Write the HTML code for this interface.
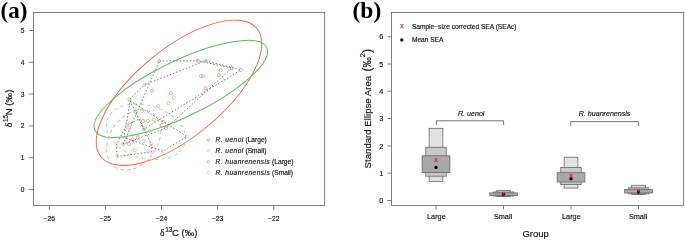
<!DOCTYPE html><html><head><meta charset="utf-8"><title>Figure</title>
<style>html,body{margin:0;padding:0;background:#fff}svg{display:block}text{font-family:"Liberation Sans",sans-serif;fill:#111;stroke:#111;stroke-width:0.15px}.b{font-family:"Liberation Serif",serif;font-weight:bold;font-size:23px;fill:#000;stroke:none}.it{font-style:italic}</style></head><body>
<svg width="685" height="240" viewBox="0 0 685 240">
<rect width="685" height="240" fill="#fff"/>
<g id="panelA">
<text class="b" x="0.5" y="18">(a)</text>
<g fill="none" stroke-width="0.95">
<ellipse cx="179" cy="92.8" rx="101" ry="44" transform="rotate(-39.5 179 92.8)" stroke="#ee6246"/>
<ellipse cx="180.8" cy="88.9" rx="95.4" ry="27.9" transform="rotate(-25.8 180.8 88.9)" stroke="#60ba62"/>
<ellipse cx="133.7" cy="140" rx="32.8" ry="23.7" transform="rotate(-54.8 133.7 140)" stroke="#f6a890" stroke-dasharray="3.6 3"/>
<ellipse cx="146" cy="131.8" rx="40.6" ry="26.3" transform="rotate(16.7 146 131.8)" stroke="#a8dca4" stroke-dasharray="3.6 3"/>
</g>
<g fill="none" stroke="#555" stroke-width="0.8" stroke-dasharray="1.5 1.9">
<polygon points="159.3,61.0 197.9,60.8 231.8,68.1 165.9,128.1 123.2,144.0"/>
<polygon points="205.7,60.8 240.8,69.9 143.7,129.2 129.5,99.4 144.7,84.7"/>
<polygon points="117.1,156.5 151.4,151.8 151.1,144.0 139.4,119.0 126.2,125.5 116.6,144.4"/>
<polygon points="130.2,100.9 186.8,136.4 163.2,151.3 124.0,137.5"/>
</g>
<g fill="none" stroke-width="0.55">
<circle cx="159.3" cy="61.0" r="1.6" stroke="#ee6246"/>
<circle cx="197.9" cy="60.8" r="1.6" stroke="#ee6246"/>
<circle cx="231.8" cy="68.1" r="1.6" stroke="#ee6246"/>
<circle cx="220.7" cy="70.3" r="1.6" stroke="#ee6246"/>
<circle cx="205.7" cy="88.2" r="1.6" stroke="#ee6246"/>
<circle cx="152.1" cy="90.5" r="1.6" stroke="#ee6246"/>
<circle cx="170.8" cy="93.3" r="1.6" stroke="#ee6246"/>
<circle cx="163.0" cy="122.0" r="1.6" stroke="#ee6246"/>
<circle cx="165.9" cy="128.1" r="1.6" stroke="#ee6246"/>
<circle cx="123.2" cy="144.0" r="1.6" stroke="#ee6246"/>
<circle cx="128.9" cy="144.0" r="1.6" stroke="#ee6246"/>
<circle cx="132.6" cy="139.8" r="1.6" stroke="#ee6246"/>
<circle cx="137.7" cy="137.4" r="1.6" stroke="#ee6246"/>
<circle cx="143.0" cy="121.0" r="1.6" stroke="#ee6246"/>
<circle cx="205.7" cy="60.8" r="1.6" stroke="#60ba62"/>
<circle cx="240.8" cy="69.9" r="1.6" stroke="#60ba62"/>
<circle cx="218.9" cy="75.0" r="1.6" stroke="#60ba62"/>
<circle cx="200.8" cy="76.2" r="1.6" stroke="#60ba62"/>
<circle cx="202.8" cy="76.2" r="1.6" stroke="#60ba62"/>
<circle cx="144.7" cy="84.7" r="1.6" stroke="#60ba62"/>
<circle cx="173.8" cy="97.5" r="1.6" stroke="#60ba62"/>
<circle cx="129.5" cy="99.4" r="1.6" stroke="#60ba62"/>
<circle cx="168.4" cy="103.3" r="1.6" stroke="#60ba62"/>
<circle cx="158.2" cy="106.1" r="1.6" stroke="#60ba62"/>
<circle cx="135.4" cy="111.7" r="1.6" stroke="#60ba62"/>
<circle cx="143.8" cy="140.9" r="1.6" stroke="#60ba62"/>
<circle cx="143.7" cy="129.2" r="1.6" stroke="#60ba62"/>
<circle cx="148.0" cy="121.0" r="1.6" stroke="#60ba62"/>
<circle cx="154.0" cy="119.8" r="1.6" stroke="#60ba62"/>
<circle cx="117.1" cy="156.5" r="1.6" stroke="#f6a890"/>
<circle cx="123.7" cy="155.9" r="1.6" stroke="#f6a890"/>
<circle cx="151.4" cy="151.8" r="1.6" stroke="#f6a890"/>
<circle cx="132.4" cy="150.1" r="1.6" stroke="#f6a890"/>
<circle cx="135.0" cy="150.1" r="1.6" stroke="#f6a890"/>
<circle cx="151.1" cy="144.0" r="1.6" stroke="#f6a890"/>
<circle cx="116.6" cy="144.4" r="1.6" stroke="#f6a890"/>
<circle cx="126.2" cy="125.5" r="1.6" stroke="#f6a890"/>
<circle cx="130.1" cy="125.1" r="1.6" stroke="#f6a890"/>
<circle cx="139.4" cy="119.0" r="1.6" stroke="#f6a890"/>
<circle cx="145.2" cy="127.7" r="1.6" stroke="#f6a890"/>
<circle cx="129.2" cy="128.6" r="1.6" stroke="#f6a890"/>
<circle cx="186.8" cy="136.4" r="1.6" stroke="#a8dca4"/>
<circle cx="163.2" cy="151.3" r="1.6" stroke="#a8dca4"/>
<circle cx="130.2" cy="100.9" r="1.6" stroke="#a8dca4"/>
<circle cx="130.6" cy="133.5" r="1.6" stroke="#a8dca4"/>
<circle cx="127.6" cy="129.9" r="1.6" stroke="#a8dca4"/>
<circle cx="139.0" cy="134.0" r="1.6" stroke="#a8dca4"/>
<circle cx="150.0" cy="131.0" r="1.6" stroke="#a8dca4"/>
<circle cx="142.0" cy="111.0" r="1.6" stroke="#a8dca4"/>
<circle cx="124.0" cy="137.5" r="1.6" stroke="#a8dca4"/>
</g>
<rect x="33.5" y="12.45" width="291.2" height="193.05" fill="none" stroke="#606060" stroke-width="0.8"/>
<g stroke="#606060" stroke-width="0.8">
<line x1="49.30" y1="205.5" x2="49.30" y2="209.9"/>
<line x1="105.40" y1="205.5" x2="105.40" y2="209.9"/>
<line x1="161.50" y1="205.5" x2="161.50" y2="209.9"/>
<line x1="217.60" y1="205.5" x2="217.60" y2="209.9"/>
<line x1="273.70" y1="205.5" x2="273.70" y2="209.9"/>
<line x1="28.9" y1="189.50" x2="33.5" y2="189.50"/>
<line x1="28.9" y1="157.70" x2="33.5" y2="157.70"/>
<line x1="28.9" y1="125.90" x2="33.5" y2="125.90"/>
<line x1="28.9" y1="94.10" x2="33.5" y2="94.10"/>
<line x1="28.9" y1="62.30" x2="33.5" y2="62.30"/>
<line x1="28.9" y1="30.50" x2="33.5" y2="30.50"/>
</g>
<g font-size="6.7" text-anchor="middle">
<text x="49.30" y="221">−26</text>
<text x="105.40" y="221">−25</text>
<text x="161.50" y="221">−24</text>
<text x="217.60" y="221">−23</text>
<text x="273.70" y="221">−22</text>
<text x="22.5" y="192.00">0</text>
<text x="22.5" y="160.20">1</text>
<text x="22.5" y="128.40">2</text>
<text x="22.5" y="96.60">3</text>
<text x="22.5" y="64.80">4</text>
<text x="22.5" y="33.00">5</text>
</g>
<text x="159.9" y="236.2" font-size="9.6"><tspan font-family="Liberation Serif,serif">δ</tspan><tspan font-size="6.6" dy="-4.5" dx="0.9" letter-spacing="-0.3">13</tspan><tspan dy="4.5" dx="-0.1">C (‰)</tspan></text>
<text transform="translate(12.3 127.3) rotate(-90)" font-size="9.6"><tspan font-family="Liberation Serif,serif">δ</tspan><tspan font-size="6.6" dy="-4.5" dx="0.9" letter-spacing="-0.3">15</tspan><tspan dy="4.5" dx="-0.1">N (‰)</tspan></text>
<circle cx="208.3" cy="140" r="1.2" fill="none" stroke="#ee6246" stroke-width="0.6"/>
<text x="215.5" y="142.3" font-size="6.6"><tspan class="it" letter-spacing="0.45">R. uenoi</tspan> (Large)</text>
<circle cx="208.3" cy="150.8" r="1.2" fill="none" stroke="#f6a890" stroke-width="0.6"/>
<text x="215.5" y="153.10000000000002" font-size="6.6"><tspan class="it" letter-spacing="0.45">R. uenoi</tspan> (Small)</text>
<circle cx="208.3" cy="161.7" r="1.2" fill="none" stroke="#60ba62" stroke-width="0.6"/>
<text x="215.5" y="164.0" font-size="6.6"><tspan class="it" letter-spacing="0.45">R. huanrenensis</tspan> (Large)</text>
<circle cx="208.3" cy="172.5" r="1.2" fill="none" stroke="#a8dca4" stroke-width="0.6"/>
<text x="215.5" y="174.8" font-size="6.6"><tspan class="it" letter-spacing="0.45">R. huanrenensis</tspan> (Small)</text>
</g>
<g id="panelB">
<text class="b" x="352.5" y="18.4" style="font-size:23.5px">(b)</text>
<rect x="429.15" y="128.3" width="13.70" height="53.20" fill="#e2e2e2" stroke="#666" stroke-width="0.8"/>
<rect x="425.80" y="147.3" width="20.40" height="28.90" fill="#c9c9c9" stroke="#666" stroke-width="0.8"/>
<rect x="422.15" y="155.8" width="27.70" height="16.70" fill="#a9a9a9" stroke="#666" stroke-width="0.8"/>
<circle cx="436" cy="167.4" r="1.7" fill="#000"/>
<text x="436" y="162.39999999999998" font-size="6.4" text-anchor="middle" style="fill:#e8202a;stroke:#e8202a;stroke-width:0.25px">x</text>
<rect x="496.65" y="190.6" width="13.70" height="5.80" fill="#e2e2e2" stroke="#666" stroke-width="0.8"/>
<rect x="493.30" y="192.0" width="20.40" height="4.00" fill="#c9c9c9" stroke="#666" stroke-width="0.8"/>
<rect x="489.65" y="192.9" width="27.70" height="2.60" fill="#a9a9a9" stroke="#666" stroke-width="0.8"/>
<circle cx="503.5" cy="194.5" r="1.7" fill="#000"/>
<text x="503.5" y="195.6" font-size="6.4" text-anchor="middle" style="fill:#e8202a;stroke:#e8202a;stroke-width:0.25px">x</text>
<rect x="564.15" y="157.2" width="13.70" height="30.90" fill="#e2e2e2" stroke="#666" stroke-width="0.8"/>
<rect x="560.80" y="167.4" width="20.40" height="17.20" fill="#c9c9c9" stroke="#666" stroke-width="0.8"/>
<rect x="557.15" y="172.7" width="27.70" height="9.30" fill="#a9a9a9" stroke="#666" stroke-width="0.8"/>
<circle cx="571" cy="178.8" r="1.7" fill="#000"/>
<text x="571" y="178.39999999999998" font-size="6.4" text-anchor="middle" style="fill:#e8202a;stroke:#e8202a;stroke-width:0.25px">x</text>
<rect x="631.65" y="185.3" width="13.70" height="9.10" fill="#e2e2e2" stroke="#666" stroke-width="0.8"/>
<rect x="628.30" y="187.8" width="20.40" height="6.00" fill="#c9c9c9" stroke="#666" stroke-width="0.8"/>
<rect x="624.65" y="189.4" width="27.70" height="3.60" fill="#a9a9a9" stroke="#666" stroke-width="0.8"/>
<circle cx="638.5" cy="192.0" r="1.7" fill="#000"/>
<text x="638.5" y="192.79999999999998" font-size="6.4" text-anchor="middle" style="fill:#e8202a;stroke:#e8202a;stroke-width:0.25px">x</text>
<rect x="391.4" y="12.45" width="292.30000000000007" height="192.95000000000002" fill="none" stroke="#606060" stroke-width="0.8"/>
<g stroke="#606060" stroke-width="0.8">
<line x1="436" y1="205.4" x2="436" y2="209.4"/>
<line x1="503.5" y1="205.4" x2="503.5" y2="209.4"/>
<line x1="571" y1="205.4" x2="571" y2="209.4"/>
<line x1="638.5" y1="205.4" x2="638.5" y2="209.4"/>
<line x1="387.4" y1="200.50" x2="391.4" y2="200.50"/>
<line x1="387.4" y1="173.20" x2="391.4" y2="173.20"/>
<line x1="387.4" y1="145.90" x2="391.4" y2="145.90"/>
<line x1="387.4" y1="118.60" x2="391.4" y2="118.60"/>
<line x1="387.4" y1="91.30" x2="391.4" y2="91.30"/>
<line x1="387.4" y1="64.00" x2="391.4" y2="64.00"/>
<line x1="387.4" y1="36.70" x2="391.4" y2="36.70"/>
</g>
<g font-size="7.3" text-anchor="middle">
<text x="436.4" y="218.9">Large</text>
<text x="503.0" y="218.9">Small</text>
<text x="571.4" y="218.9">Large</text>
<text x="638.0" y="218.9">Small</text>
<text x="381.3" y="203.10">0</text>
<text x="381.3" y="175.80">1</text>
<text x="381.3" y="148.50">2</text>
<text x="381.3" y="121.20">3</text>
<text x="381.3" y="93.90">4</text>
<text x="381.3" y="66.60">5</text>
<text x="381.3" y="39.30">6</text>
</g>
<text x="535.6" y="237.4" font-size="9.5" text-anchor="middle">Group</text>
<text transform="translate(370.5 168.4) rotate(-90)" font-size="9.65">Standard Ellipse Area<tspan font-size="12.4" dx="4.3">(</tspan><tspan font-size="10.3">‰</tspan><tspan font-size="7.4" dy="-5.1" dx="-0.2">2</tspan><tspan font-size="12.4" dy="5.1" dx="0.2">)</tspan></text>
<g fill="none" stroke="#666" stroke-width="0.9">
<polyline points="436.3,125 436.3,120.8 503.6,120.8 503.6,125"/>
<polyline points="570.8,125.8 570.8,121.6 638.4,121.6 638.4,125.8"/>
</g>
<text class="it" x="471.2" y="115.6" font-size="7.1" text-anchor="middle">R. uenoi</text>
<text class="it" x="604.6" y="115.6" font-size="7.1" text-anchor="middle">R. huanrenensis</text>
<text x="401.8" y="28.1" font-size="6.4" text-anchor="middle" style="fill:#e8202a;stroke:#e8202a;stroke-width:0.25px">x</text>
<circle cx="401.8" cy="39.9" r="1.7" fill="#000"/>
<text x="411.9" y="28.7" font-size="6.6">Sample−size corrected SEA (SEAc)</text>
<text x="411.9" y="42.2" font-size="6.6">Mean SEA</text>
</g>
</svg></body></html>
